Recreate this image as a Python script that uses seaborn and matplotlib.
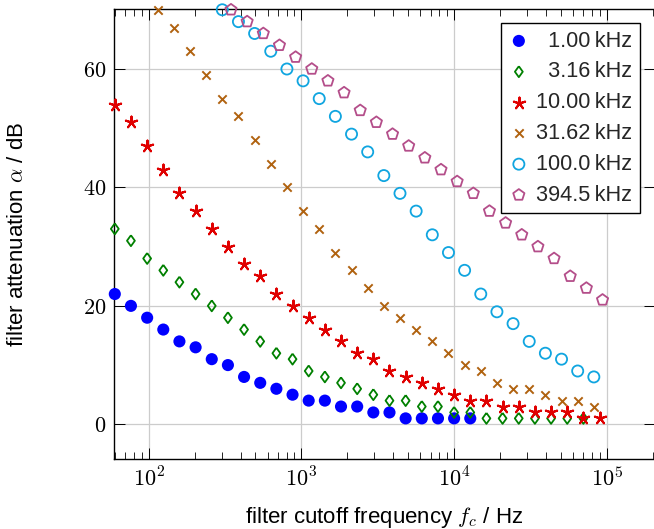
import matplotlib
matplotlib.use("Agg")
import matplotlib.pyplot as plt
import seaborn as sns
from matplotlib.ticker import LogLocator, NullFormatter, FixedLocator

# ---------------- data ----------------
# cutoff frequencies (Hz)
f_grid = [60.0, 76.5, 97.7, 124.6, 158.9, 202.8, 258.7, 330.0, 421.0, 537.1,
          685.2, 874.2, 1115, 1423, 1815, 2316, 2954, 3769, 4808, 6134,
          7826, 9981, 12734, 16245, 20726, 26442, 33735, 43038, 54907, 70051,
          89337]
f_shift = [114.5, 146.1, 186.3, 237.7, 303.2, 386.8, 493.5, 629.5, 803.1, 1024.5,
           1306.9, 1667.2, 2126.8, 2713.1, 3461.0, 4415.2, 5632.4, 7185.2, 9166.0, 11693,
           14916, 19028, 24274, 30966, 39503, 50393, 64285, 82007]
f_pent = [345.7, 441.0, 562.6, 717.7, 915.5, 1167.9, 1489.8, 1900.5, 2424.4, 3092.8,
          3945.4, 5033.0, 6420.5, 8190.5, 10448, 13328, 17003, 21690, 27670, 35298,
          45029, 57443, 73279, 93481]

att_1k = [22, 20, 18, 16, 14, 13, 11, 10, 8, 7, 6, 5, 4, 4, 3, 3, 2, 2, 1, 1, 1, 1, 1]
att_3k = [33, 31, 28, 26, 24, 22, 20, 18, 16, 14, 12, 11, 9, 8, 7, 6, 5, 4, 4, 3,
          3, 2, 2, 1, 1, 1, 1, 1, 1, 1]
att_10k = [54, 51, 47, 43, 39, 36, 33, 30, 27, 25, 22, 20, 18, 16, 14, 12, 11, 9, 8, 7,
           6, 5, 4, 4, 3, 3, 2, 2, 2, 1, 1]
att_31k = [70, 67, 63, 59, 55, 52, 48, 44, 40, 36, 33, 29, 26, 23, 20, 18, 16, 14, 12, 10,
           9, 7, 6, 6, 5, 4, 4, 3]
att_100k = [70, 68, 66, 63, 60, 58, 55, 52, 49, 46, 42, 39, 36, 32, 29, 26, 22, 19, 17, 14,
            12, 11, 9, 8]
att_394k = [70, 68, 66, 64, 62, 60, 58, 56, 53, 51, 49, 47, 45, 43, 41, 39, 36, 34, 32, 30,
            28, 25, 23, 21]

labels = ["\u20071.00\u2009kHz", "\u20073.16\u2009kHz", "10.00\u2009kHz",
          "31.62\u2009kHz", "100.0\u2009kHz", "394.5\u2009kHz"]
x_ticks = [1e2, 1e3, 1e4, 1e5]
x_ticklabels = ["$10^{2}$", "$10^{3}$", "$10^{4}$", "$10^{5}$"]
y_ticks = [0, 20, 40, 60]
y_ticklabels = ["$0$", "$20$", "$40$", "$60$"]

# ---------------- style ----------------
sns.set_theme(style="white")
plt.rcParams['font.family'] = ['Liberation Sans', 'DejaVu Sans']
plt.rcParams['mathtext.fontset'] = 'cm'

fig = plt.figure(figsize=(6.54, 5.29), dpi=100)
W, H = 654, 529
ax_l, ax_r, ax_t, ax_b = 114.3, 655.0, 9.3, 459.3
ax = fig.add_axes([ax_l / W, 1 - ax_b / H, (ax_r - ax_l) / W, (ax_b - ax_t) / H])

series = [
    (f_grid[:len(att_1k)], att_1k, dict(marker='o', s=76, color='#0000ff', edgecolor='none', linewidth=0)),
    (f_grid[:len(att_3k)], att_3k, dict(marker=[(0, 1), (0.72, 0), (0, -1), (-0.72, 0), (0, 1)], s=62,
                                        color='#008000', facecolor='none', edgecolor='#008000', linewidth=1.3)),
    (f_grid[:len(att_10k)], att_10k, dict(marker=(5, 2, 0), s=72, color='#e00000', edgecolor='#e00000', linewidth=1.5)),
    (f_shift[:len(att_31k)], att_31k, dict(marker='x', s=36, color='#b0620f', edgecolor='#b0620f', linewidth=1.4)),
    (f_shift[4:4 + len(att_100k)], att_100k, dict(marker='o', s=64, color='#10a5e0', facecolor='none',
                                                edgecolor='#10a5e0', linewidth=1.3)),
    (f_pent[:len(att_394k)], att_394k, dict(marker='p', s=72, color='#b44e8a', facecolor='none',
                                           edgecolor='#b44e8a', linewidth=1.3)),
]

for (xs, ys, kw), lab in zip(series, labels):
    sns.scatterplot(x=xs, y=ys, ax=ax, label=lab, clip_on=False, zorder=3, legend=False, **kw)

ax.set_xscale('log')
ax.set_xlim(10 ** (2 - (148.7 - ax_l) / 152.77), 10 ** (5 + (ax_r - 607.0) / 152.77))
ax.set_ylim((424.3 - ax_b) / 5.9217, (424.3 - ax_t) / 5.9217)

ax.xaxis.set_major_locator(FixedLocator(x_ticks))
ax.set_xticklabels(x_ticklabels)
ax.xaxis.set_minor_locator(LogLocator(base=10, subs=[2, 3, 4, 5, 6, 7, 8, 9], numticks=20))
ax.xaxis.set_minor_formatter(NullFormatter())
ax.set_yticks(y_ticks)
ax.set_yticklabels(y_ticklabels)

ax.grid(True, which='major', color='#cccccc', linewidth=0.9)
ax.set_axisbelow(True)
for sp in ax.spines.values():
    sp.set_color('black')
    sp.set_linewidth(1.0)
    sp.set_visible(True)

ax.tick_params(which='both', direction='in', top=True, right=True, bottom=True, left=True, colors='black')
ax.tick_params(which='major', length=8, width=0.7, labelsize=16, pad=6)
ax.tick_params(which='minor', length=5, width=0.6)

ax.set_xlabel("filter cutoff frequency $f_c$ / Hz", fontsize=16, color='black')
ax.set_ylabel("filter attenuation $\\alpha$ / dB", fontsize=16, color='black')
ax.yaxis.set_label_coords((28.5 - ax_l) / (ax_r - ax_l), 0.5)
ax.xaxis.set_label_coords(0.5, -(505 - ax_b) / (ax_b - ax_t))

leg = ax.legend(loc='upper right', bbox_to_anchor=(639.5 / W, 1 - 23 / H), bbox_transform=fig.transFigure,
                fontsize=15.7, frameon=True, fancybox=False, framealpha=1, edgecolor='black',
                borderpad=0.35, labelspacing=0.45, handletextpad=0.3, handlelength=0.95, borderaxespad=0)
leg.get_frame().set_linewidth(1.0)

fig.savefig("out.png", dpi=100)
